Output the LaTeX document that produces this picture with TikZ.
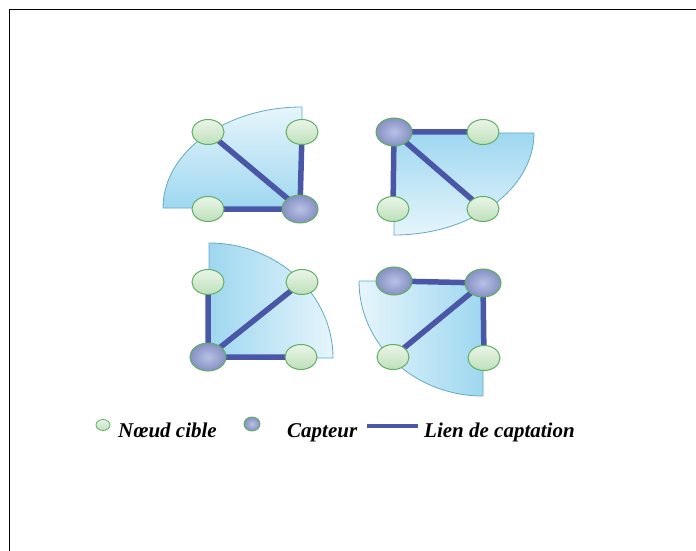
\documentclass[tikz,border=0pt]{standalone}
\usepackage{fontspec}
\setmainfont{Liberation Serif}
\usetikzlibrary{shapes.geometric}
\pgfdeclarelayer{seclayer}
\pgfdeclarelayer{linklayer}
\pgfsetlayers{seclayer,linklayer,main}
\definecolor{linkc}{HTML}{4A56A6}
\definecolor{secdark}{HTML}{9ED7F0}
\definecolor{seclight}{HTML}{E6F5FB}
\definecolor{secline}{HTML}{62AAC4}
\definecolor{gtop}{HTML}{EAF5E8}
\definecolor{gbot}{HTML}{BEE0BA}
\definecolor{gline}{HTML}{5FAE62}
\definecolor{sin}{HTML}{B8C1E6}
\definecolor{sout}{HTML}{8690C2}
\tikzset{
  target/.style={ellipse, draw=gline, line width=1pt, top color=gtop, bottom color=gbot, minimum width=32pt, minimum height=25pt, inner sep=0pt},
  sensor/.style={ellipse, draw=gline, line width=1pt, inner color=sin, outer color=sout, minimum width=36pt, minimum height=28pt, inner sep=0pt},
  smalltarget/.style={target, minimum width=14pt, minimum height=11pt, line width=0.8pt},
  smallsensor/.style={sensor, minimum width=16pt, minimum height=14pt, line width=0.9pt},
  link/.style={linkc, line width=5.5pt},
  sector/.style={draw=secline, line width=0.8pt},
  legtext/.style={font=\fontsize{21}{24}\selectfont\bfseries\itshape, anchor=base west, inner sep=0pt}
}
\begin{document}
\begin{tikzpicture}[x=1pt,y=1pt]
\useasboundingbox (0,0) rectangle (696,550);
% frame
\draw[line width=1.2pt] (9.5,-10) -- (9.5,540.5) -- (710,540.5);
% sectors
\begin{pgfonlayer}{seclayer}
\path[sector, top color=seclight, bottom color=secdark] (302,342) -- (163,342) arc[start angle=180, end angle=90, x radius=139, y radius=101] -- cycle;
\path[sector, top color=secdark, bottom color=seclight] (394,417) -- (534,417) arc[start angle=0, end angle=-90, x radius=140, y radius=102] -- cycle;
\path[sector, left color=secdark, right color=seclight] (209,192) -- (209,307) arc[start angle=90, end angle=0, x radius=124, y radius=115] -- cycle;
\path[sector, left color=seclight, right color=secdark] (483,269) -- (359,269) arc[start angle=180, end angle=270, x radius=124, y radius=115] -- cycle;
\end{pgfonlayer}
% nodes Q1
\node[target] (a1) at (208,418) {};
\node[target] (b1) at (302,418) {};
\node[target] (c1) at (208,341) {};
\node[sensor] (s1) at (300,341) {};
% Q2
\node[sensor] (s2) at (394,418) {};
\node[target] (a2) at (483,418) {};
\node[target] (b2) at (393,341) {};
\node[target] (c2) at (483,341) {};
% Q3
\node[sensor] (s3) at (208,193) {};
\node[target] (a3) at (208,268) {};
\node[target] (b3) at (302,268) {};
\node[target] (c3) at (301,193) {};
% Q4
\node[sensor] (s4) at (394,269) {};
\node[sensor] (t4) at (483,267) {};
\node[target] (a4) at (393,193) {};
\node[target] (b4) at (484,192) {};
% links
\begin{pgfonlayer}{linklayer}
\draw[link] (s1.center) -- (a1.center) (s1.center) -- (b1.center) (s1.center) -- (c1.center);
\draw[link] (s2.center) -- (a2.center) (s2.center) -- (b2.center) (s2.center) -- (c2.center);
\draw[link] (s3.center) -- (a3.center) (s3.center) -- (b3.center) (s3.center) -- (c3.center);
\draw[link] (s4.center) -- (t4.center) (t4.center) -- (a4.center) (t4.center) -- (b4.center);
\end{pgfonlayer}
% legend
\node[smalltarget] (lt) at (103,125) {};
\node[legtext] (ltt) at (118,113) {Nœud cible};
\node[smallsensor] (ls) at (252,126) {};
\node[legtext] (lst) at (287,113) {Capteur};
\coordinate (l1) at (367,124);
\coordinate (l2) at (418,124);
\draw[linkc, line width=4pt] (l1) -- (l2);
\node[legtext] (llt) at (424,113) {Lien de captation};
\end{tikzpicture}
\end{document}
